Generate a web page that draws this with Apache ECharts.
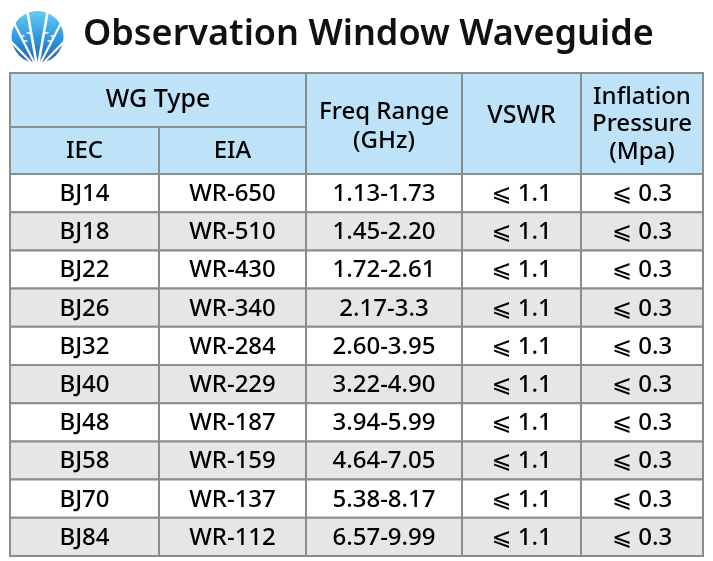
<!DOCTYPE html>
<html><head><meta charset="utf-8">
<script src="https://cdn.jsdelivr.net/npm/echarts@6/dist/echarts.min.js"></script>
<style>html,body{margin:0;padding:0;background:#fff}#c{width:713px;height:561px}</style>
</head><body><div id="c"></div>
<script>
const titleText = 'Observation Window Waveguide';
const iecTypes = ['BJ14','BJ18','BJ22','BJ26','BJ32','BJ40','BJ48','BJ58','BJ70','BJ84'];
const eiaTypes = ['WR-650','WR-510','WR-430','WR-340','WR-284','WR-229','WR-187','WR-159','WR-137','WR-112'];
const freqRanges = ['1.13-1.73','1.45-2.20','1.72-2.61','2.17-3.3','2.60-3.95','3.22-4.90','3.94-5.99','4.64-7.05','5.38-8.17','6.57-9.99'];
const vswrValues = ['⩽ 1.1','⩽ 1.1','⩽ 1.1','⩽ 1.1','⩽ 1.1','⩽ 1.1','⩽ 1.1','⩽ 1.1','⩽ 1.1','⩽ 1.1'];
const pressureValues = ['⩽ 0.3','⩽ 0.3','⩽ 0.3','⩽ 0.3','⩽ 0.3','⩽ 0.3','⩽ 0.3','⩽ 0.3','⩽ 0.3','⩽ 0.3'];
const groupHeader = 'WG Type';
const subHeaders = ['IEC','EIA'];
const spanHeaders = ['Freq Range\n(GHz)','VSWR','Inflation\nPressure\n(Mpa)'];

// layout (pixels inside the grid)
const colEdges = [0,149,296,452,571,693];
const headerEdges = [0,54,101];
const tableBottom = 483;
const nRows = iecTypes.length;
const rowH = (tableBottom - headerEdges[2]) / nRows;
const BLUE = '#bee3f8', GRAY = '#e6e6e6', WHITE = '#ffffff';
const FONT = '"Noto Sans", "DejaVu Sans", sans-serif';

const cells = [];
function cell(x0,x1,y0,y1,text,fill,opts){
  cells.push(Object.assign({value:[x0,x1,y0,y1], text:text, fill:fill, dy:0, lh:28, fs:24}, opts||{}));
}
// headers
cell(colEdges[0],colEdges[2],headerEdges[0],headerEdges[1],groupHeader,BLUE,{dy:0, fs:25});
cell(colEdges[0],colEdges[1],headerEdges[1],headerEdges[2],subHeaders[0],BLUE,{dy:1});
cell(colEdges[1],colEdges[2],headerEdges[1],headerEdges[2],subHeaders[1],BLUE,{dy:1});
cell(colEdges[2],colEdges[3],headerEdges[0],headerEdges[2],spanHeaders[0],BLUE,{dy:3,lh:29});
cell(colEdges[3],colEdges[4],headerEdges[0],headerEdges[2],spanHeaders[1],BLUE,{dy:-8, fs:25});
cell(colEdges[4],colEdges[5],headerEdges[0],headerEdges[2],spanHeaders[2],BLUE,{dy:1,lh:27.5});
// body
const columns = [iecTypes, eiaTypes, freqRanges, vswrValues, pressureValues];
for (let r=0;r<nRows;r++){
  const y0 = headerEdges[2] + r*rowH, y1 = y0 + rowH;
  const fill = r%2===0 ? WHITE : GRAY;
  columns.forEach((col,ci)=>cell(colEdges[ci],colEdges[ci+1],y0,y1,col[r],fill,{dy:1}));
}

const chart = echarts.init(document.getElementById('c'));
// logo: blue disc cut by white rays converging at the bottom
const logo = [];
const lcx = 37.5, lcy = 37, lr = 26;
logo.push({type:'circle', shape:{cx:lcx, cy:lcy, r:lr},
  style:{fill:new echarts.graphic.LinearGradient(0,0,0,1,[{offset:0,color:'#63cdf4'},{offset:0.55,color:'#2f94dd'},{offset:1,color:'#1a5eb3'}])}});
const ox = lcx, oy = 69;
[-62,-44,-27,-10,10,27,44,62].forEach(a=>{
  const rad = a*Math.PI/180;
  logo.push({type:'line', shape:{x1:ox, y1:oy, x2:ox+Math.sin(rad)*70, y2:oy-Math.cos(rad)*70},
    style:{stroke:'#fff', lineWidth:a===-10||a===10?2.6:2.2}});
});
logo.push({type:'polygon', shape:{points:[[10,54],[lcx-2,66],[lcx+2,66],[66,54],[66,70],[10,70]]}, style:{fill:'#fff'}});
[[22,36],[29,33],[46,33],[53,36],[25,41],[50,41]].forEach(p=>{
  logo.push({type:'line', shape:{x1:p[0]-2.5, y1:p[1], x2:p[0]+2.5, y2:p[1]}, style:{stroke:'#fff', lineWidth:1.4}});
});

chart.setOption({
  animation:false,
  graphic:[
    {type:'group', children:logo},
    {type:'text', left:83, top:17, style:{text:titleText, fontSize:36, fontWeight:600, fontFamily:FONT, fill:'#111'}}
  ],
  grid:{left:10, top:73, width:693, height:483},
  xAxis:{type:'value', min:0, max:693, show:false},
  yAxis:{type:'value', min:0, max:483, inverse:true, show:false},
  series:[{
    type:'custom',
    coordinateSystem:'cartesian2d',
    data:cells,
    renderItem:function(params, api){
      const d = cells[params.dataIndex];
      const p0 = api.coord([api.value(0), api.value(2)]);
      const p1 = api.coord([api.value(1), api.value(3)]);
      return {type:'group', children:[
        {type:'rect', shape:{x:p0[0], y:p0[1], width:p1[0]-p0[0], height:p1[1]-p0[1]},
          style:{fill:d.fill, stroke:'#8c8c8c', lineWidth:2}},
        {type:'text', style:{x:(p0[0]+p1[0])/2, y:(p0[1]+p1[1])/2 + d.dy, text:d.text, align:'center', verticalAlign:'middle',
          fontSize:d.fs, lineHeight:d.lh, fontFamily:FONT, fontWeight:500, fill:'#000'}}
      ]};
    }
  }]
});
</script></body></html>
